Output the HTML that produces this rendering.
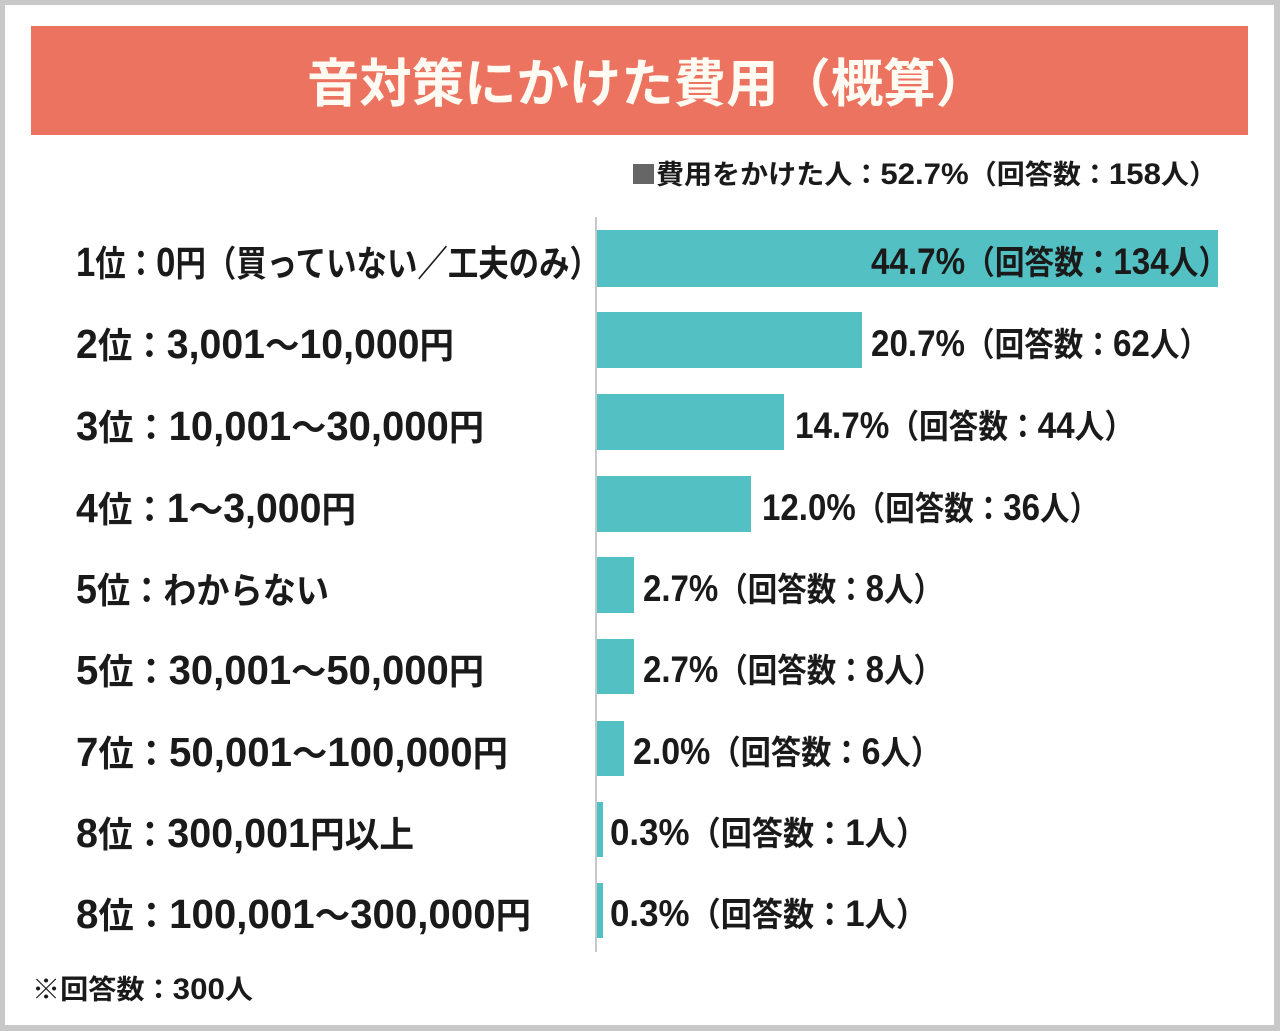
<!DOCTYPE html>
<html>
<head>
<meta charset="utf-8">
<style>
  html,body{margin:0;padding:0;background:#c8c8c8;}
  svg{display:block;}
  text{font-family:"Liberation Sans","Noto Sans CJK JP",sans-serif;}
  .lab{font-size:36px;fill:#1a1a1a;font-weight:700;}
  .lab .b{font-size:41px;font-weight:700;}
  .val{font-size:33px;fill:#1a1a1a;font-weight:700;}
  .val .b{font-size:37px;font-weight:700;}
  .sm{font-size:27px;fill:#1a1a1a;font-weight:700;}
  .sm .b{font-size:30px;font-weight:700;}
</style>
</head>
<body>
<svg width="1280" height="1031" viewBox="0 0 1280 1031" xmlns="http://www.w3.org/2000/svg">
  <rect x="0" y="0" width="1280" height="1031" fill="#c8c8c8"/>
  <rect x="5" y="5" width="1269" height="1020" fill="#ffffff"/>

  <!-- title bar -->
  <rect x="31" y="26" width="1217" height="109" fill="#ec735f"/>
  <text x="307" y="102" font-size="52" font-weight="700" fill="#fffaf2" textLength="681" lengthAdjust="spacingAndGlyphs">音対策にかけた費用（概算）</text>

  <!-- legend -->
  <rect x="633" y="164" width="21" height="20" fill="#666666"/>
  <text class="sm" x="656" y="184" textLength="561" lengthAdjust="spacingAndGlyphs">費用をかけた人：<tspan class="b">52.7%</tspan>（回答数：<tspan class="b">158</tspan>人）</text>

  <!-- axis -->
  <rect x="595" y="217" width="2" height="735" fill="#c8c8c8"/>

  <!-- bars -->
  <g fill="#53c0c4">
    <rect x="597" y="230" width="621" height="57"/>
    <rect x="597" y="312" width="265" height="56"/>
    <rect x="597" y="394" width="187" height="56"/>
    <rect x="597" y="476" width="154" height="56"/>
    <rect x="597" y="557" width="37" height="56"/>
    <rect x="597" y="639" width="37" height="55"/>
    <rect x="597" y="721" width="27" height="55"/>
    <rect x="597" y="802" width="6" height="55"/>
    <rect x="597" y="883" width="6" height="55"/>
  </g>

  <!-- category labels -->
  <text class="lab" x="76" y="276" textLength="524" lengthAdjust="spacingAndGlyphs"><tspan class="b">1</tspan>位：<tspan class="b">0</tspan>円（買っていない／工夫のみ）</text>
  <text class="lab" x="76" y="358" textLength="378" lengthAdjust="spacingAndGlyphs"><tspan class="b">2</tspan>位：<tspan class="b">3,001</tspan>～<tspan class="b">10,000</tspan>円</text>
  <text class="lab" x="76" y="440" textLength="408" lengthAdjust="spacingAndGlyphs"><tspan class="b">3</tspan>位：<tspan class="b">10,001</tspan>～<tspan class="b">30,000</tspan>円</text>
  <text class="lab" x="76" y="522" textLength="280" lengthAdjust="spacingAndGlyphs"><tspan class="b">4</tspan>位：<tspan class="b">1</tspan>～<tspan class="b">3,000</tspan>円</text>
  <text class="lab" x="76" y="603" textLength="253" lengthAdjust="spacingAndGlyphs"><tspan class="b">5</tspan>位：わからない</text>
  <text class="lab" x="76" y="684" textLength="408" lengthAdjust="spacingAndGlyphs"><tspan class="b">5</tspan>位：<tspan class="b">30,001</tspan>～<tspan class="b">50,000</tspan>円</text>
  <text class="lab" x="76" y="766" textLength="432" lengthAdjust="spacingAndGlyphs"><tspan class="b">7</tspan>位：<tspan class="b">50,001</tspan>～<tspan class="b">100,000</tspan>円</text>
  <text class="lab" x="76" y="847" textLength="338" lengthAdjust="spacingAndGlyphs"><tspan class="b">8</tspan>位：<tspan class="b">300,001</tspan>円以上</text>
  <text class="lab" x="76" y="928" textLength="455" lengthAdjust="spacingAndGlyphs"><tspan class="b">8</tspan>位：<tspan class="b">100,001</tspan>～<tspan class="b">300,000</tspan>円</text>

  <!-- value labels -->
  <text class="val" x="871" y="274" textLength="357" lengthAdjust="spacingAndGlyphs"><tspan class="b">44.7%</tspan>（回答数：<tspan class="b">134</tspan>人）</text>
  <text class="val" x="871" y="356" textLength="338" lengthAdjust="spacingAndGlyphs"><tspan class="b">20.7%</tspan>（回答数：<tspan class="b">62</tspan>人）</text>
  <text class="val" x="795" y="438" textLength="339" lengthAdjust="spacingAndGlyphs"><tspan class="b">14.7%</tspan>（回答数：<tspan class="b">44</tspan>人）</text>
  <text class="val" x="762" y="520" textLength="337" lengthAdjust="spacingAndGlyphs"><tspan class="b">12.0%</tspan>（回答数：<tspan class="b">36</tspan>人）</text>
  <text class="val" x="643" y="601" textLength="300" lengthAdjust="spacingAndGlyphs"><tspan class="b">2.7%</tspan>（回答数：<tspan class="b">8</tspan>人）</text>
  <text class="val" x="643" y="682" textLength="300" lengthAdjust="spacingAndGlyphs"><tspan class="b">2.7%</tspan>（回答数：<tspan class="b">8</tspan>人）</text>
  <text class="val" x="633" y="764" textLength="308" lengthAdjust="spacingAndGlyphs"><tspan class="b">2.0%</tspan>（回答数：<tspan class="b">6</tspan>人）</text>
  <text class="val" x="610" y="845" textLength="317" lengthAdjust="spacingAndGlyphs"><tspan class="b">0.3%</tspan>（回答数：<tspan class="b">1</tspan>人）</text>
  <text class="val" x="610" y="926" textLength="317" lengthAdjust="spacingAndGlyphs"><tspan class="b">0.3%</tspan>（回答数：<tspan class="b">1</tspan>人）</text>

  <!-- footer -->
  <text class="sm" x="32" y="999" textLength="221" lengthAdjust="spacingAndGlyphs">※回答数：<tspan class="b">300</tspan>人</text>
</svg>
</body>
</html>
